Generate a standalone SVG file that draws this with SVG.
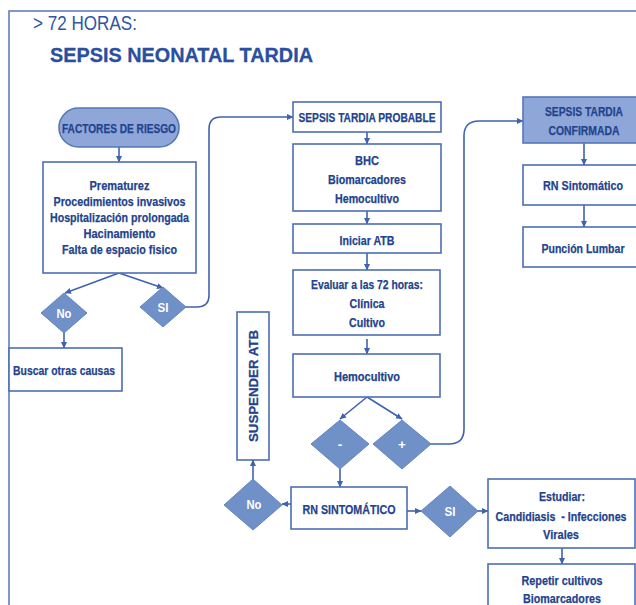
<svg xmlns="http://www.w3.org/2000/svg" width="636" height="605" viewBox="0 0 636 605">
<defs>
<marker id="ah" markerWidth="7" markerHeight="7" refX="6" refY="3.5" orient="auto" markerUnits="userSpaceOnUse">
<path d="M0,0.5 L6.5,3.5 L0,6.5 z" fill="#3f63ad"/>
</marker>
<style>
.box{fill:#ffffff;stroke:#4d6fb6;stroke-width:1.6}
.fill{fill:#8ea7d8;stroke:#5577bb;stroke-width:1.6}
.dia{fill:#7090c8;stroke:#6585c2;stroke-width:1}
.t{font-family:"Liberation Sans",Arial,sans-serif;font-weight:bold;font-size:13.5px;fill:#23438d;stroke:#23438d;stroke-width:0.25;text-anchor:middle}
.w{font-family:"Liberation Sans",Arial,sans-serif;font-weight:bold;font-size:13.5px;fill:#ffffff;text-anchor:middle}
.c{fill:none;stroke:#3f63ad;stroke-width:1.6;marker-end:url(#ah)}
</style>
</defs>
<rect width="636" height="605" fill="#ffffff"/>
<path d="M9,605 V11 H636" fill="none" stroke="#5577bb" stroke-width="1.5"/>
<text x="33" y="30" font-family="'Liberation Sans',Arial,sans-serif" font-size="21" fill="#2f55a4" textLength="104" lengthAdjust="spacingAndGlyphs">&gt; 72 HORAS:</text>
<text x="50" y="62" font-family="'Liberation Sans',Arial,sans-serif" font-size="21" font-weight="bold" fill="#2a4f9f" stroke="#2a4f9f" stroke-width="0.3" textLength="263" lengthAdjust="spacingAndGlyphs">SEPSIS NEONATAL TARDIA</text>

<g id="connectors">
<line class="c" x1="119" y1="147" x2="119" y2="162"/>
<line class="c" x1="119" y1="273" x2="65" y2="293"/>
<line class="c" x1="119" y1="273" x2="163" y2="288"/>
<path class="c" d="M186,307 H197 Q209,307 209,295 V129 Q209,117 221,117 H293"/>
<line class="c" x1="64" y1="333" x2="64" y2="348"/>
<line class="c" x1="367" y1="132" x2="367" y2="144"/>
<line class="c" x1="367" y1="211" x2="367" y2="224"/>
<line class="c" x1="367" y1="253" x2="367" y2="270"/>
<line class="c" x1="367" y1="339" x2="367" y2="354"/>
<line class="c" x1="367" y1="397" x2="340" y2="419"/>
<line class="c" x1="367" y1="397" x2="402" y2="419"/>
<path class="c" d="M431,444 H449 Q464,444 464,429 V136 Q464,121 479,121 H523"/>
<line class="c" x1="584" y1="143" x2="584" y2="165"/>
<line class="c" x1="584" y1="205" x2="584" y2="227"/>
<line class="c" x1="340" y1="469" x2="340" y2="487"/>
<line class="c" x1="253" y1="479" x2="253" y2="460"/>
<line class="c" x1="291" y1="504" x2="282" y2="504"/>
<line class="c" x1="407" y1="511" x2="421" y2="511"/>
<line class="c" x1="478" y1="511" x2="488" y2="511"/>
<line class="c" x1="562" y1="548" x2="562" y2="564"/>
</g>

<g id="factores">
<rect class="fill" x="59" y="108" width="120" height="39" rx="19.5"/>
<text class="t" x="119" y="133" textLength="114" lengthAdjust="spacingAndGlyphs">FACTORES DE RIESGO</text>
</g>
<g id="lista">
<rect class="box" x="43" y="162" width="153" height="111"/>
<text class="t" x="119.5" y="190" textLength="60" lengthAdjust="spacingAndGlyphs">Prematurez</text>
<text class="t" x="119.5" y="206" textLength="132" lengthAdjust="spacingAndGlyphs">Procedimientos invasivos</text>
<text class="t" x="119.5" y="222" textLength="139" lengthAdjust="spacingAndGlyphs">Hospitalización prolongada</text>
<text class="t" x="119.5" y="238" textLength="72" lengthAdjust="spacingAndGlyphs">Hacinamiento</text>
<text class="t" x="119.5" y="254" textLength="115" lengthAdjust="spacingAndGlyphs">Falta de espacio fisico</text>
</g>
<g id="no1">
<polygon class="dia" points="64,293 87,313 64,333 41,313"/>
<text class="w" x="64" y="318" textLength="15" lengthAdjust="spacingAndGlyphs">No</text>
</g>
<g id="si1">
<polygon class="dia" points="163,287 186,307 163,327 140,307"/>
<text class="w" x="163" y="312" textLength="11" lengthAdjust="spacingAndGlyphs">SI</text>
</g>
<g id="buscar">
<rect class="box" x="9" y="348" width="113" height="43"/>
<text class="t" x="64" y="375" textLength="102" lengthAdjust="spacingAndGlyphs">Buscar otras causas</text>
</g>
<g id="probable">
<rect class="box" x="293" y="102" width="148" height="30"/>
<text class="t" x="367" y="122" textLength="137" lengthAdjust="spacingAndGlyphs">SEPSIS TARDIA PROBABLE</text>
</g>
<g id="bhc">
<rect class="box" x="293" y="144" width="148" height="67"/>
<text class="t" x="367" y="165" textLength="24" lengthAdjust="spacingAndGlyphs">BHC</text>
<text class="t" x="367" y="184" textLength="78" lengthAdjust="spacingAndGlyphs">Biomarcadores</text>
<text class="t" x="367" y="203" textLength="64" lengthAdjust="spacingAndGlyphs">Hemocultivo</text>
</g>
<g id="iniciar">
<rect class="box" x="293" y="224" width="148" height="29"/>
<text class="t" x="367" y="245" textLength="55" lengthAdjust="spacingAndGlyphs">Iniciar ATB</text>
</g>
<g id="evaluar">
<rect class="box" x="293" y="270" width="147" height="65"/>
<text class="t" x="367" y="289" textLength="112" lengthAdjust="spacingAndGlyphs">Evaluar a las 72 horas:</text>
<text class="t" x="367" y="308" textLength="35" lengthAdjust="spacingAndGlyphs">Clínica</text>
<text class="t" x="367" y="327" textLength="36" lengthAdjust="spacingAndGlyphs">Cultivo</text>
</g>
<g id="hemocultivo">
<rect class="box" x="293" y="354" width="147" height="43"/>
<text class="t" x="367" y="381" textLength="66" lengthAdjust="spacingAndGlyphs">Hemocultivo</text>
</g>
<g id="menos">
<polygon class="dia" points="340,420 369,444 340,469 311,444"/>
<text class="w" x="340" y="449">-</text>
</g>
<g id="mas">
<polygon class="dia" points="402,420 431,444 402,469 373,444"/>
<text class="w" x="402" y="449">+</text>
</g>
<g id="confirmada">
<rect class="fill" x="523" y="97" width="114" height="46"/>
<text class="t" x="584" y="116" textLength="78" lengthAdjust="spacingAndGlyphs">SEPSIS TARDIA</text>
<text class="t" x="584" y="135" textLength="71" lengthAdjust="spacingAndGlyphs">CONFIRMADA</text>
</g>
<g id="rnsint">
<rect class="box" x="523" y="165" width="114" height="40"/>
<text class="t" x="583" y="190" textLength="80" lengthAdjust="spacingAndGlyphs">RN Sintomático</text>
</g>
<g id="puncion">
<rect class="box" x="523" y="227" width="114" height="40"/>
<text class="t" x="583" y="253" textLength="83" lengthAdjust="spacingAndGlyphs">Punción Lumbar</text>
</g>
<g id="suspender">
<rect class="box" x="237" y="312" width="32" height="148"/>
<text class="t" transform="translate(258,386) rotate(-90)" x="0" y="0" textLength="112" lengthAdjust="spacingAndGlyphs">SUSPENDER ATB</text>
</g>
<g id="no2">
<polygon class="dia" points="253,479 282,505 253,530 224,505"/>
<text class="w" x="254" y="509" textLength="15" lengthAdjust="spacingAndGlyphs">No</text>
</g>
<g id="rnsintomatico">
<rect class="box" x="291" y="487" width="116" height="42"/>
<text class="t" x="349" y="514" textLength="93" lengthAdjust="spacingAndGlyphs">RN SINTOMÁTICO</text>
</g>
<g id="si2">
<polygon class="dia" points="450,486 478,511 450,537 421,511"/>
<text class="w" x="450" y="516" textLength="11" lengthAdjust="spacingAndGlyphs">SI</text>
</g>
<g id="estudiar">
<rect class="box" x="488" y="479" width="147" height="69"/>
<text class="t" x="562" y="501" textLength="46" lengthAdjust="spacingAndGlyphs">Estudiar:</text>
<text class="t" x="561" y="521" xml:space="preserve" textLength="131" lengthAdjust="spacingAndGlyphs">Candidiasis  - Infecciones</text>
<text class="t" x="561" y="539" textLength="36" lengthAdjust="spacingAndGlyphs">Virales</text>
</g>
<g id="repetir">
<rect class="box" x="488" y="564" width="147" height="50"/>
<text class="t" x="562" y="585" textLength="81" lengthAdjust="spacingAndGlyphs">Repetir cultivos</text>
<text class="t" x="562" y="603" textLength="78" lengthAdjust="spacingAndGlyphs">Biomarcadores</text>
</g>
</svg>
